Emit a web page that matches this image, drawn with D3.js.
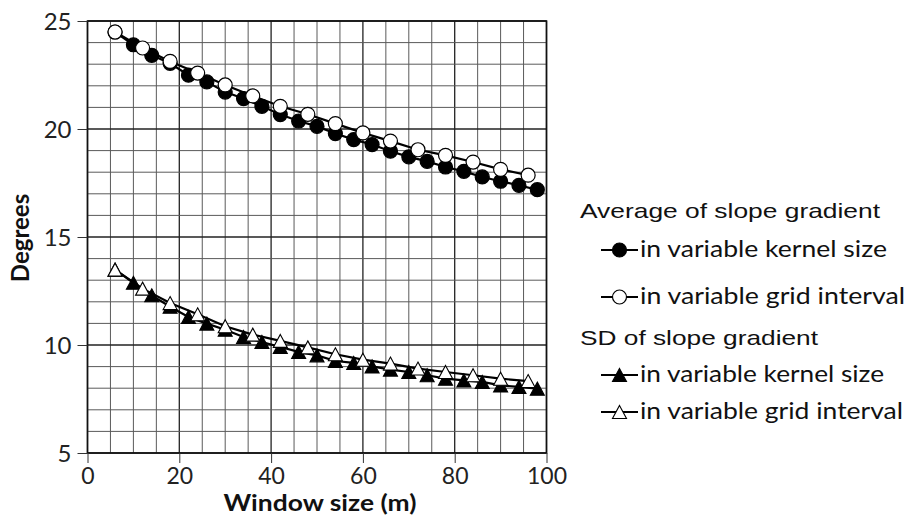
<!DOCTYPE html>
<html>
<head>
<meta charset="utf-8">
<script src="https://cdn.jsdelivr.net/npm/d3@7"></script>
<style>
  html, body { margin: 0; padding: 0; background: #fff; }
  svg { display: block; }
</style>
</head>
<body>
<svg id="chart" width="911" height="525"></svg>
<script>
// ---------- data ----------
const xKernel = [6, 10, 14, 18, 22, 26, 30, 34, 38, 42, 46, 50, 54, 58, 62, 66, 70, 74, 78, 82, 86, 90, 94, 98];
const xGrid   = [6, 12, 18, 24, 30, 36, 42, 48, 54, 60, 66, 72, 78, 84, 90, 96];

const avgKernel = [24.49, 23.90, 23.41, 23.04, 22.49, 22.18, 21.71, 21.41, 21.05, 20.67, 20.37, 20.12,
                   19.79, 19.51, 19.28, 18.97, 18.71, 18.50, 18.24, 18.04, 17.78, 17.58, 17.39, 17.19];
const avgGrid   = [24.49, 23.75, 23.13, 22.59, 22.04, 21.53, 21.05, 20.68, 20.25, 19.82, 19.44, 19.04,
                   18.78, 18.47, 18.13, 17.86];
const sdKernel  = [13.49, 12.88, 12.30, 11.77, 11.30, 10.99, 10.71, 10.37, 10.14, 9.91, 9.68, 9.52,
                   9.26, 9.17, 9.01, 8.86, 8.75, 8.60, 8.44, 8.36, 8.29, 8.13, 8.06, 7.98];
const sdGrid    = [13.49, 12.61, 11.94, 11.42, 10.87, 10.48, 10.19, 9.89, 9.57, 9.32, 9.14, 8.91,
                   8.75, 8.60, 8.44, 8.33];

const xTicks = [0, 20, 40, 60, 80, 100];
const yTicks = [5, 10, 15, 20, 25];
const xTitle = "Window size (m)";
const yTitle = "Degrees";

const groupTitles = ["Average of slope gradient", "SD of slope gradient"];
const itemLabels  = ["in variable kernel size", "in variable grid interval"];

// ---------- layout ----------
const svg = d3.select("#chart");
svg.append("rect").attr("width", 911).attr("height", 525).attr("fill", "#fff");

const L = 87.5, R = 546.5, T = 21, B = 453;
const x = d3.scaleLinear().domain([0, 100]).range([L, R]);
const y = d3.scaleLinear().domain([5, 25]).range([B, T]);

const tickFont = "Lato, 'Open Sans', sans-serif";

// grid
const g = svg.append("g");
const vGrid = d3.range(0, 100.001, 5);
const hGrid = d3.range(5, 25.001, 1);
g.selectAll("line.v").data(vGrid).join("line")
  .attr("x1", d => x(d)).attr("x2", d => x(d))
  .attr("y1", T).attr("y2", B)
  .attr("stroke", d => d % 20 === 0 ? "#222" : "#5a5a5a")
  .attr("stroke-width", d => d % 20 === 0 ? 1.3 : 1);
g.selectAll("line.h").data(hGrid).join("line")
  .attr("y1", d => y(d)).attr("y2", d => y(d))
  .attr("x1", L).attr("x2", R)
  .attr("stroke", d => d % 5 === 0 ? "#222" : "#5a5a5a")
  .attr("stroke-width", d => d % 5 === 0 ? 1.3 : 1);

// border
svg.append("rect").attr("x", L).attr("y", T).attr("width", R - L).attr("height", B - T)
  .attr("fill", "none").attr("stroke", "#111").attr("stroke-width", 1.6);

// axes
const xAxis = d3.axisBottom(x).tickValues(xTicks).tickSize(10).tickFormat(d3.format("d"));
const yAxis = d3.axisLeft(y).tickValues(yTicks).tickSize(10).tickFormat(d3.format("d"));

const gx = svg.append("g").attr("transform", `translate(0,${B})`).call(xAxis);
const gy = svg.append("g").attr("transform", `translate(${L},0)`).call(yAxis);
[gx, gy].forEach(a => {
  a.select(".domain").remove();
  a.selectAll(".tick line").attr("stroke", "#333").attr("stroke-width", 1);
  a.selectAll(".tick text").attr("fill", "#222").style("font-family", tickFont).style("font-size", "24px");
});
gx.selectAll(".tick text").style("font-size", "23px").attr("y", 31).attr("dy", "0");
gy.selectAll(".tick text").attr("x", -16).attr("dy", "0.36em");

// axis titles
svg.append("text").text(xTitle)
  .attr("x", (L + R) / 2 + 3).attr("y", 511).attr("text-anchor", "middle")
  .style("font-family", tickFont).style("font-weight", "bold").style("font-size", "22px")
  .attr("fill", "#111").attr("textLength", 193).attr("lengthAdjust", "spacingAndGlyphs");
svg.append("text").text(yTitle)
  .attr("transform", "translate(29,238) rotate(-90)").attr("text-anchor", "middle")
  .style("font-family", tickFont).style("font-weight", "bold").style("font-size", "24px")
  .attr("fill", "#111");

// series
const tri = (w, h) => `M0,${-h / 2}L${w / 2},${h / 2}L${-w / 2},${h / 2}Z`;
const series = [
  { xs: xKernel, ys: avgKernel, shape: "circle", fill: "#000" },
  { xs: xGrid,   ys: avgGrid,   shape: "circle", fill: "#fff" },
  { xs: xKernel, ys: sdKernel,  shape: "tri",    fill: "#000" },
  { xs: xGrid,   ys: sdGrid,    shape: "tri",    fill: "#fff" }
];
const line = d3.line().x(d => x(d[0])).y(d => y(d[1]));

function drawMarker(sel, shape, fill) {
  if (shape === "circle") {
    sel.append("circle").attr("r", 7).attr("fill", fill).attr("stroke", "#000").attr("stroke-width", 1.2);
  } else {
    sel.append("path").attr("d", tri(14, 13)).attr("fill", fill).attr("stroke", "#000").attr("stroke-width", 1.1);
  }
}

series.forEach(s => {
  const pts = s.xs.map((v, i) => [v, s.ys[i]]);
  svg.append("path").datum(pts).attr("d", line)
    .attr("fill", "none").attr("stroke", "#000").attr("stroke-width", 2.2);
  const mg = svg.append("g");
  pts.forEach(p => {
    const m = mg.append("g").attr("transform", `translate(${x(p[0])},${y(p[1])})`);
    drawMarker(m, s.shape, s.fill);
  });
});

// legend
const headFont = "'Liberation Sans', Arial, sans-serif";
const leg = svg.append("g");
const headerRows = [
  { text: groupTitles[0], yb: 218, len: 300 },
  { text: groupTitles[1], yb: 345, len: 238 }
];
headerRows.forEach(h => {
  leg.append("text").text(h.text).attr("x", 580).attr("y", h.yb)
    .style("font-family", headFont).style("font-size", "21px").attr("fill", "#111")
    .attr("textLength", h.len).attr("lengthAdjust", "spacingAndGlyphs");
});
const itemRows = [
  { s: series[0], label: itemLabels[0], ly: 250, len: 247 },
  { s: series[1], label: itemLabels[1], ly: 297, len: 265 },
  { s: series[2], label: itemLabels[0], ly: 375, len: 244 },
  { s: series[3], label: itemLabels[1], ly: 412, len: 263 }
];
itemRows.forEach(it => {
  leg.append("line").attr("x1", 601).attr("x2", 638).attr("y1", it.ly).attr("y2", it.ly)
    .attr("stroke", "#000").attr("stroke-width", 2);
  const m = leg.append("g").attr("transform", `translate(619.5,${it.ly})`);
  drawMarker(m, it.s.shape, it.s.fill);
  leg.append("text").text(it.label).attr("x", 640).attr("y", it.ly + 7)
    .style("font-family", tickFont).style("font-size", "24px").attr("fill", "#111")
    .attr("textLength", it.len).attr("lengthAdjust", "spacingAndGlyphs");
});
</script>
</body>
</html>
